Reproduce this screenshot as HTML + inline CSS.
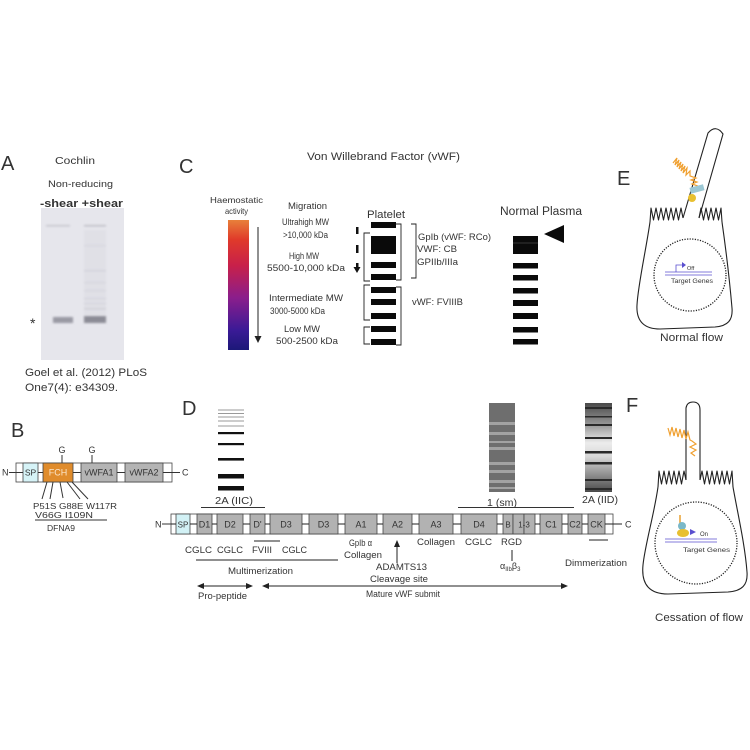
<!DOCTYPE html>
<html><head><meta charset="utf-8"><style>
html,body{margin:0;padding:0;background:#fff;width:750px;height:750px;overflow:hidden}
svg{display:block}
text{font-family:"Liberation Sans",Arial,sans-serif;fill:#333}
</style></head><body>
<svg width="750" height="750" viewBox="0 0 750 750" xmlns="http://www.w3.org/2000/svg">
<defs>
<linearGradient id="hg" x1="0" y1="0" x2="0" y2="1">
<stop offset="0" stop-color="#e8803a"/>
<stop offset="0.15" stop-color="#e03a2a"/>
<stop offset="0.35" stop-color="#c8204a"/>
<stop offset="0.6" stop-color="#8a1e8c"/>
<stop offset="0.85" stop-color="#3a1a96"/>
<stop offset="1" stop-color="#1c1878"/>
</linearGradient>
<linearGradient id="iid" x1="0" y1="0" x2="0" y2="1">
<stop offset="0" stop-color="#4a4a4a"/>
<stop offset="0.25" stop-color="#9a9a9a"/>
<stop offset="0.45" stop-color="#ececec"/>
<stop offset="0.6" stop-color="#d8d8d8"/>
<stop offset="0.82" stop-color="#8a8a8a"/>
<stop offset="1" stop-color="#4a4a4a"/>
</linearGradient>
<filter id="bl" x="-20%" y="-50%" width="140%" height="200%"><feGaussianBlur stdDeviation="1"/></filter>
</defs>

<!-- Panel A -->
<text x="1" y="170" font-size="20">A</text>
<text x="55" y="164" font-size="10" textLength="40" lengthAdjust="spacingAndGlyphs">Cochlin</text>
<text x="48" y="187" font-size="9.5" textLength="65" lengthAdjust="spacingAndGlyphs">Non-reducing</text>
<text x="40" y="207" font-size="11" font-weight="bold" textLength="83" lengthAdjust="spacingAndGlyphs">-shear +shear</text>
<rect x="41" y="208" width="83" height="152" fill="#e6e6ec"/>
<g filter="url(#bl)">
<rect x="46" y="225" width="24" height="1.5" fill="#c4c4cc"/>
<rect x="84" y="225" width="22" height="1.5" fill="#bcbcc4"/>
<rect x="84" y="245" width="22" height="1.2" fill="#cdcdd4"/>
<rect x="84" y="270" width="22" height="1.5" fill="#c4c4cc"/>
<rect x="84" y="282" width="22" height="1.2" fill="#c8c8d0"/>
<rect x="84" y="290" width="22" height="1.2" fill="#c8c8d0"/>
<rect x="84" y="298" width="22" height="1.2" fill="#c4c4cc"/>
<rect x="84" y="303" width="22" height="1.2" fill="#c4c4cc"/>
<rect x="84" y="308" width="22" height="1.5" fill="#bcbcc4"/>
<rect x="84" y="230" width="22" height="85" fill="#dcdce3" opacity="0.6"/>
<rect x="53" y="317" width="20" height="6" fill="#9a9aa4"/>
<rect x="84" y="316" width="22" height="7" fill="#8c8c96"/>
</g>
<text x="30" y="328" font-size="14">*</text>
<text x="25" y="376" font-size="11" textLength="122" lengthAdjust="spacingAndGlyphs">Goel et al. (2012) PLoS</text>
<text x="25" y="391" font-size="11" textLength="93" lengthAdjust="spacingAndGlyphs">One7(4): e34309.</text>

<!-- Panel B -->
<text x="11" y="437" font-size="20">B</text>
<text x="2" y="475.5" font-size="9">N</text>
<line x1="9" y1="472.5" x2="16" y2="472.5" stroke="#333" stroke-width="1"/>
<rect x="16" y="463" width="156" height="19" fill="#fff" stroke="#444" stroke-width="0.8"/>
<rect x="23" y="463" width="15" height="19" fill="#d6f3f7" stroke="#444" stroke-width="0.8"/>
<rect x="43" y="463" width="30" height="19" fill="#e08c2c" stroke="#444" stroke-width="0.8"/>
<rect x="81" y="463" width="36" height="19" fill="#b4b4b4" stroke="#444" stroke-width="0.8"/>
<rect x="125" y="463" width="38" height="19" fill="#b4b4b4" stroke="#444" stroke-width="0.8"/>
<g stroke="#333" stroke-width="1">
<line x1="16" y1="472.5" x2="23" y2="472.5"/>
<line x1="38" y1="472.5" x2="43" y2="472.5"/>
<line x1="73" y1="472.5" x2="81" y2="472.5"/>
<line x1="117" y1="472.5" x2="125" y2="472.5"/>
<line x1="163" y1="472.5" x2="180" y2="472.5"/>
<line x1="62" y1="455" x2="62" y2="463"/>
<line x1="92" y1="455" x2="92" y2="463"/>
<line x1="47" y1="482" x2="42" y2="499"/>
<line x1="53" y1="482" x2="50" y2="499"/>
<line x1="60" y1="482" x2="63" y2="498"/>
<line x1="67" y1="482" x2="80" y2="499"/>
<line x1="72" y1="482" x2="88" y2="499"/>
<line x1="35" y1="520" x2="107" y2="520"/>
</g>
<text x="182" y="475.5" font-size="9">C</text>
<text x="30.5" y="475.5" font-size="8.5" text-anchor="middle">SP</text>
<text x="58" y="475.5" font-size="9" text-anchor="middle" style="fill:#fbe6cc">FCH</text>
<text x="99" y="475.5" font-size="9" text-anchor="middle">vWFA1</text>
<text x="144" y="475.5" font-size="9" text-anchor="middle">vWFA2</text>
<text x="62" y="453" font-size="9" text-anchor="middle">G</text>
<text x="92" y="453" font-size="9" text-anchor="middle">G</text>
<text x="33" y="509" font-size="8" textLength="84" lengthAdjust="spacingAndGlyphs">P51S G88E W117R</text>
<text x="35" y="518" font-size="8" textLength="58" lengthAdjust="spacingAndGlyphs">V66G  I109N</text>
<text x="47" y="531" font-size="8" textLength="28" lengthAdjust="spacingAndGlyphs">DFNA9</text>

<!-- Panel C -->
<text x="179" y="173" font-size="20">C</text>
<text x="307" y="160" font-size="11" textLength="153" lengthAdjust="spacingAndGlyphs">Von Willebrand Factor (vWF)</text>
<text x="210" y="203" font-size="8.5" textLength="53" lengthAdjust="spacingAndGlyphs">Haemostatic</text>
<text x="225" y="214" font-size="8.5" textLength="23" lengthAdjust="spacingAndGlyphs">activity</text>
<rect x="228" y="220" width="21" height="130" fill="url(#hg)"/>
<line x1="258" y1="227" x2="258" y2="337" stroke="#222" stroke-width="1"/>
<polygon points="254.5,336 261.5,336 258,343" fill="#222"/>
<g font-size="9">
<text x="288" y="209" textLength="39" lengthAdjust="spacingAndGlyphs">Migration</text>
<text x="282" y="225" textLength="47" lengthAdjust="spacingAndGlyphs">Ultrahigh MW</text>
<text x="283" y="238" textLength="45" lengthAdjust="spacingAndGlyphs">&gt;10,000 kDa</text>
<text x="289" y="259" textLength="30" lengthAdjust="spacingAndGlyphs">High MW</text>
<text x="267" y="271" textLength="78" lengthAdjust="spacingAndGlyphs">5500-10,000 kDa</text>
<text x="269" y="301" textLength="74" lengthAdjust="spacingAndGlyphs">Intermediate MW</text>
<text x="270" y="314" textLength="55" lengthAdjust="spacingAndGlyphs">3000-5000 kDa</text>
<text x="284" y="332" textLength="36" lengthAdjust="spacingAndGlyphs">Low MW</text>
<text x="276" y="344" textLength="62" lengthAdjust="spacingAndGlyphs">500-2500 kDa</text>
<text x="418" y="240" textLength="73" lengthAdjust="spacingAndGlyphs">GpIb (vWF: RCo)</text>
<text x="417" y="252" textLength="40" lengthAdjust="spacingAndGlyphs">VWF: CB</text>
<text x="417" y="265" textLength="41" lengthAdjust="spacingAndGlyphs">GPIIb/IIIa</text>
<text x="412" y="305" textLength="51" lengthAdjust="spacingAndGlyphs">vWF: FVIIIB</text>
</g>
<text x="367" y="218" font-size="11" textLength="38" lengthAdjust="spacingAndGlyphs">Platelet</text>
<!-- dashes -->
<rect x="356" y="227" width="2.5" height="7" fill="#111"/>
<rect x="356" y="245" width="2.5" height="8" fill="#111"/>
<rect x="356" y="263" width="2.5" height="5" fill="#111"/>
<polygon points="353.5,267 360.5,267 357,273" fill="#111"/>
<!-- platelet bands -->
<g fill="#0a0a0a">
<rect x="371" y="222" width="25" height="6"/>
<rect x="371" y="236" width="25" height="18"/>
<rect x="371" y="262" width="25" height="6"/>
<rect x="371" y="274" width="25" height="6"/>
<rect x="371" y="287" width="25" height="6"/>
<rect x="371" y="299" width="25" height="6"/>
<rect x="371" y="313" width="25" height="6"/>
<rect x="371" y="326" width="25" height="6"/>
<rect x="371" y="339" width="25" height="6"/>
</g>
<g fill="none" stroke="#222" stroke-width="0.9">
<polyline points="370,233 364,233 364,281 370,281"/>
<polyline points="370,285 364,285 364,320 370,320"/>
<polyline points="370,327 364,327 364,344 370,344"/>
<polyline points="396,224 401,224 401,280 396,280"/>
<polyline points="396,287 401,287 401,345 396,345"/>
<polyline points="411,224 416,224 416,278 411,278"/>
</g>
<!-- normal plasma -->
<text x="500" y="215" font-size="11.5" textLength="82" lengthAdjust="spacingAndGlyphs">Normal Plasma</text>
<polygon points="544,234 564,225 564,243" fill="#0a0a0a"/>
<g fill="#0a0a0a">
<rect x="513" y="236" width="25" height="18"/>
<rect x="513" y="263" width="25" height="5.5"/>
<rect x="513" y="275" width="25" height="5.5"/>
<rect x="513" y="288" width="25" height="5.5"/>
<rect x="513" y="300" width="25" height="6"/>
<rect x="513" y="313" width="25" height="6"/>
<rect x="513" y="327" width="25" height="5.5"/>
<rect x="513" y="339" width="25" height="5.5"/>
</g>
<line x1="513" y1="243" x2="538" y2="243" stroke="#444" stroke-width="0.8"/>

<!-- Panel D -->
<text x="182" y="415" font-size="20">D</text>
<g stroke="#9a9a9a" stroke-width="1">
<line x1="218" y1="410" x2="244" y2="410"/>
<line x1="218" y1="413.5" x2="244" y2="413.5"/>
<line x1="218" y1="417" x2="244" y2="417"/>
<line x1="218" y1="421" x2="244" y2="421"/>
<line x1="218" y1="426" x2="244" y2="426"/>
</g>
<g fill="#111">
<rect x="218" y="432" width="26" height="2.2"/>
<rect x="218" y="443" width="26" height="2.2"/>
<rect x="218" y="458" width="26" height="2.6"/>
<rect x="218" y="474" width="26" height="4.5"/>
<rect x="218" y="486" width="26" height="4.5"/>
</g>
<text x="215" y="504" font-size="10" textLength="38" lengthAdjust="spacingAndGlyphs">2A (IIC)</text>
<line x1="201" y1="507.5" x2="265" y2="507.5" stroke="#333" stroke-width="1"/>
<!-- 1 (sm) -->
<rect x="489" y="403" width="26" height="89" fill="#6e6e6e"/>
<g fill="#a2a2a2">
<rect x="489" y="422" width="26" height="3"/>
<rect x="489" y="432" width="26" height="3"/>
<rect x="489" y="441" width="26" height="2"/>
<rect x="489" y="447" width="26" height="3"/>
<rect x="489" y="462" width="26" height="3"/>
<rect x="489" y="470" width="26" height="3"/>
<rect x="489" y="480" width="26" height="3"/>
<rect x="489" y="487" width="26" height="2"/>
</g>
<text x="487" y="506" font-size="10" textLength="30" lengthAdjust="spacingAndGlyphs">1 (sm)</text>
<line x1="458" y1="507.5" x2="574" y2="507.5" stroke="#333" stroke-width="1"/>
<!-- 2A (IID) -->
<rect x="585" y="403" width="27" height="89" fill="url(#iid)"/>
<g fill="#2a2a2a">
<rect x="585" y="407" width="27" height="2"/>
<rect x="585" y="416" width="27" height="1.5"/>
<rect x="585" y="424" width="27" height="2"/>
<rect x="585" y="437" width="27" height="2"/>
<rect x="585" y="451" width="27" height="2.5"/>
<rect x="585" y="462" width="27" height="2.5"/>
<rect x="585" y="479" width="27" height="2"/>
<rect x="585" y="488" width="27" height="2"/>
</g>
<text x="582" y="503" font-size="10" textLength="36" lengthAdjust="spacingAndGlyphs">2A (IID)</text>

<!-- domain bar -->
<text x="155" y="527.5" font-size="9">N</text>
<line x1="162" y1="524" x2="171" y2="524" stroke="#333" stroke-width="1"/>
<rect x="171" y="514" width="442" height="20" fill="#fff" stroke="#444" stroke-width="0.8"/>
<g stroke="#444" stroke-width="0.8" fill="#b2b2b2">
<rect x="176" y="514" width="14" height="20" fill="#d2f1f5"/>
<rect x="197" y="514" width="15" height="20"/>
<rect x="217" y="514" width="26" height="20"/>
<rect x="250" y="514" width="15" height="20"/>
<rect x="270" y="514" width="32" height="20"/>
<rect x="309" y="514" width="29" height="20"/>
<rect x="345" y="514" width="32" height="20"/>
<rect x="383" y="514" width="29" height="20"/>
<rect x="419" y="514" width="34" height="20"/>
<rect x="461" y="514" width="36" height="20"/>
<rect x="503" y="514" width="10" height="20"/>
<rect x="513" y="514" width="11" height="20"/>
<rect x="524" y="514" width="11" height="20"/>
<rect x="540" y="514" width="22" height="20"/>
<rect x="568" y="514" width="14" height="20"/>
<rect x="588" y="514" width="17" height="20"/>
</g>
<g stroke="#222" stroke-width="1">
<line x1="171" y1="524" x2="176" y2="524"/>
<line x1="190" y1="524" x2="197" y2="524"/>
<line x1="212" y1="524" x2="217" y2="524"/>
<line x1="243" y1="524" x2="250" y2="524"/>
<line x1="265" y1="524" x2="270" y2="524"/>
<line x1="302" y1="524" x2="309" y2="524"/>
<line x1="338" y1="524" x2="345" y2="524"/>
<line x1="377" y1="524" x2="383" y2="524"/>
<line x1="412" y1="524" x2="419" y2="524"/>
<line x1="453" y1="524" x2="461" y2="524"/>
<line x1="497" y1="524" x2="503" y2="524"/>
<line x1="535" y1="524" x2="540" y2="524"/>
<line x1="562" y1="524" x2="568" y2="524"/>
<line x1="582" y1="524" x2="588" y2="524"/>
<line x1="605" y1="524" x2="622" y2="524"/>
</g>
<text x="625" y="527.5" font-size="9">C</text>
<g font-size="9" text-anchor="middle">
<text x="183" y="527.5" font-size="8">SP</text>
<text x="204.5" y="527.5">D1</text>
<text x="230" y="527.5">D2</text>
<text x="257.5" y="527.5">D'</text>
<text x="286" y="527.5">D3</text>
<text x="323.5" y="527.5">D3</text>
<text x="361" y="527.5">A1</text>
<text x="397.5" y="527.5">A2</text>
<text x="436" y="527.5">A3</text>
<text x="479" y="527.5">D4</text>
<text x="508" y="527.5" font-size="8">B</text>
<text x="524" y="527.5" font-size="8">1-3</text>
<text x="551" y="527.5">C1</text>
<text x="575" y="527.5">C2</text>
<text x="596.5" y="527.5">CK</text>
</g>
<!-- labels under bar -->
<g font-size="9">
<text x="185" y="553" textLength="27" lengthAdjust="spacingAndGlyphs">CGLC</text>
<text x="217" y="553" textLength="26" lengthAdjust="spacingAndGlyphs">CGLC</text>
<text x="252" y="553" textLength="20" lengthAdjust="spacingAndGlyphs">FVIII</text>
<text x="282" y="553" textLength="25" lengthAdjust="spacingAndGlyphs">CGLC</text>
<text x="349" y="546" textLength="23" lengthAdjust="spacingAndGlyphs">GpIb α</text>
<text x="344" y="558" textLength="38" lengthAdjust="spacingAndGlyphs">Collagen</text>
<text x="376" y="570" textLength="51" lengthAdjust="spacingAndGlyphs">ADAMTS13</text>
<text x="370" y="582" textLength="58" lengthAdjust="spacingAndGlyphs">Cleavage site</text>
<text x="228" y="574" textLength="65" lengthAdjust="spacingAndGlyphs">Multimerization</text>
<text x="198" y="599" textLength="49" lengthAdjust="spacingAndGlyphs">Pro-peptide</text>
<text x="366" y="597" textLength="74" lengthAdjust="spacingAndGlyphs">Mature vWF submit</text>
<text x="417" y="545" textLength="38" lengthAdjust="spacingAndGlyphs">Collagen</text>
<text x="465" y="545" textLength="27" lengthAdjust="spacingAndGlyphs">CGLC</text>
<text x="501" y="545" textLength="21" lengthAdjust="spacingAndGlyphs">RGD</text>
<text x="565" y="566" textLength="62" lengthAdjust="spacingAndGlyphs">Dimmerization</text>
</g>
<text x="500" y="569" font-size="9">α<tspan font-size="6" dy="2">IIb</tspan><tspan dy="-2">β</tspan><tspan font-size="6" dy="2">3</tspan></text>
<g stroke="#222" stroke-width="1">
<line x1="254" y1="541" x2="280" y2="541"/>
<line x1="196" y1="560" x2="338" y2="560"/>
<line x1="589" y1="540" x2="608" y2="540"/>
<line x1="512" y1="550" x2="512" y2="561"/>
<line x1="397" y1="546" x2="397" y2="563"/>
<line x1="202" y1="586" x2="248" y2="586"/>
<line x1="267" y1="586" x2="563" y2="586"/>
</g>
<g fill="#222">
<polygon points="397,540 394,547 400,547"/>
<polygon points="197,586 204,583 204,589"/>
<polygon points="253,586 246,583 246,589"/>
<polygon points="262,586 269,583 269,589"/>
<polygon points="568,586 561,583 561,589"/>
</g>

<!-- Panel E -->
<text x="617" y="185" font-size="20">E</text>
<g fill="none" stroke="#222" stroke-width="1.1" stroke-linejoin="round">
<polyline points="650,222 651,208 653.5,220 656,208 658.5,220 661,208 663.5,220 666,208 668.5,220 671,208 673.5,220 676,208 678.5,220 681,208 683,218"/>
<polyline points="699,218 701,208 703.5,220 706,208 708.5,220 711,208 713.5,220 716,208 718.5,220 721,208 722,222"/>
<path d="M650,222 C646,250 638,285 637,305 C636,322 645,329 660,329 L715,327 C728,326 733,320 732,308 C730,285 726,250 722,222"/>
<path d="M683,218 L708,133 Q716,124 723,134 L699,218"/>
</g>
<circle cx="690" cy="275" r="36" fill="none" stroke="#222" stroke-width="1.3" stroke-dasharray="1.2 1.4"/>
<polyline points="673,163 677,158 675,165 679,160 677,167 681,162 679,169 683,164 681,171 685,166 683,173 687,168 686,175 690,171 690,176 696,178 691,180 697,182 692,184 698,186 693,188 699,190" fill="none" stroke="#f0a030" stroke-width="1.2"/>
<rect x="690" y="186" width="14" height="6" fill="#9cc8d4" transform="rotate(-15 697 189)"/>
<circle cx="692" cy="198" r="4" fill="#e8c030"/>
<g stroke="#5a4fcf" stroke-width="0.8">
<line x1="665" y1="272" x2="712" y2="272"/>
<line x1="665" y1="275" x2="712" y2="275"/>
<polyline points="676,272 676,265 683,265" fill="none"/>
</g>
<polygon points="682,262 686,265 682,268" fill="#5a4fcf"/>
<text x="687" y="270" font-size="5.5">Off</text>
<text x="671" y="283" font-size="6" textLength="42" lengthAdjust="spacingAndGlyphs">Target Genes</text>
<text x="660" y="341" font-size="11" textLength="63" lengthAdjust="spacingAndGlyphs">Normal flow</text>

<!-- Panel F -->
<text x="626" y="412" font-size="20">F</text>
<g fill="none" stroke="#222" stroke-width="1.1" stroke-linejoin="round">
<polyline points="658,487 659,471 661.5,484 664,471 666.5,484 669,471 671.5,484 674,471 676.5,484 679,471 681.5,484 684,471 686,480"/>
<polyline points="700,480 702,471 704.5,484 707,471 709.5,484 712,471 714.5,484 717,471 719.5,484 722,471 724.5,484 727,471 729.5,484 732,471 733,487"/>
<path d="M658,487 C654,515 645,545 643,565 C641,585 650,594 668,594 L728,592 C742,591 748,585 747,572 C745,545 738,515 733,487"/>
<path d="M686,480 L686,408 Q687,402 693,402 Q700,402 700,410 L700,480"/>
</g>
<polyline points="668,428 670,435 672,427 674,436 676,428 678,437 680,429 682,438 684,430 686,439 688,432 690,440 692,441 696,444 690,447 696,450 691,453 695,456" fill="none" stroke="#f0a030" stroke-width="1.2"/>
<circle cx="696" cy="543" r="41" fill="none" stroke="#222" stroke-width="1.3" stroke-dasharray="1.2 1.4"/>
<g stroke="#5a4fcf" stroke-width="0.8">
<line x1="665" y1="539" x2="717" y2="539"/>
<line x1="665" y1="542" x2="717" y2="542"/>
</g>
<line x1="680" y1="515" x2="680" y2="526" stroke="#e8a030" stroke-width="1.5"/>
<circle cx="682" cy="526" r="4" fill="#7ab8c8"/>
<ellipse cx="683" cy="533" rx="6" ry="4" fill="#e8c030"/>
<polygon points="690,529 696,532 690,535" fill="#5a4fcf"/>
<text x="700" y="536" font-size="6">On</text>
<text x="683" y="552" font-size="6" textLength="47" lengthAdjust="spacingAndGlyphs">Target Genes</text>
<text x="655" y="621" font-size="11" textLength="88" lengthAdjust="spacingAndGlyphs">Cessation of flow</text>
</svg>
</body></html>
